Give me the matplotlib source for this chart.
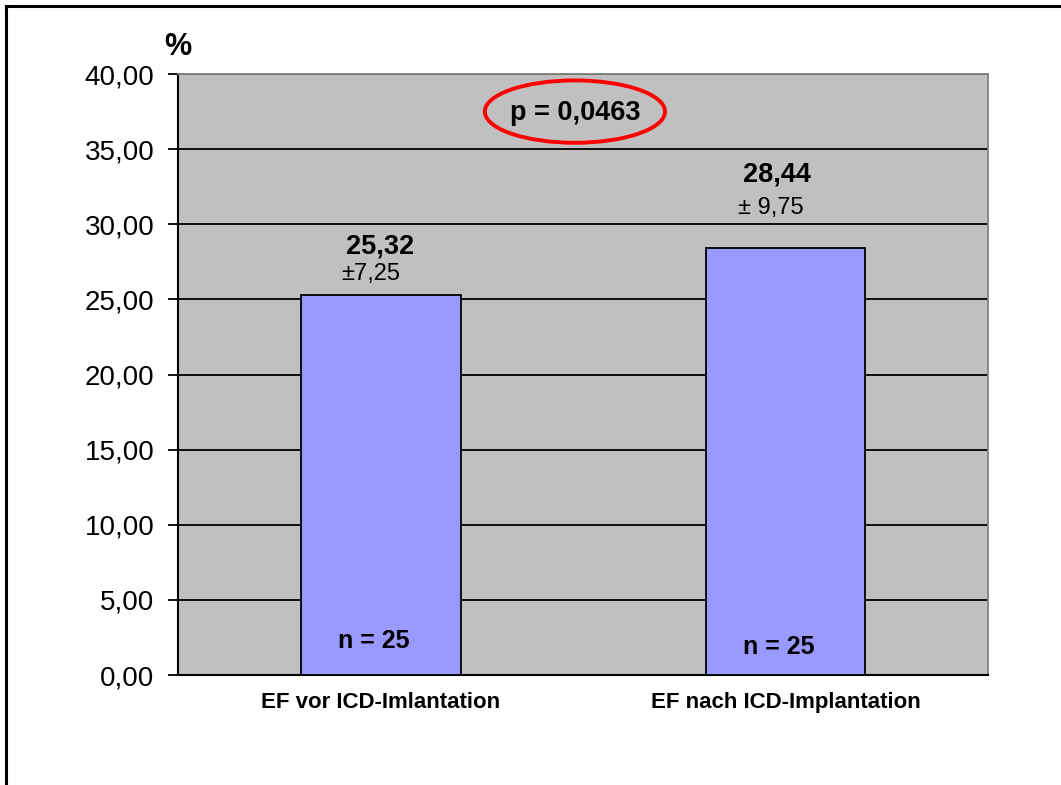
import matplotlib
matplotlib.use('Agg')
import matplotlib.pyplot as plt
from matplotlib.patches import Ellipse
from matplotlib.lines import Line2D

plt.rcParams['font.family'] = ['Liberation Sans', 'DejaVu Sans']

# data
categories = ['EF vor ICD-Imlantation', 'EF nach ICD-Implantation']
ef_mean = [25.32, 28.44]
ef_sd_labels = ['\u00b17,25', '\u00b1 9,75']
n_labels = ['n = 25', 'n = 25']
p_label = 'p = 0,0463'
yticks = [0, 5, 10, 15, 20, 25, 30, 35, 40]

fig = plt.figure(figsize=(10.61, 7.85), dpi=100)
ax = fig.add_axes([0.1678, 0.1401, 0.7634, 0.7656])
ax.set_facecolor('#C0C0C0')

x = list(range(len(categories)))
ax.bar(x, ef_mean, width=0.395, color='#9999FF', edgecolor='black', linewidth=1.3, zorder=3)

ax.set_xlim(-0.5, 1.5)
ax.set_ylim(0, 40)
ax.set_yticks(yticks)
ax.set_yticklabels([f'{v:.2f}'.replace('.', ',') for v in yticks], fontsize=20)
ax.yaxis.grid(True, color='black', linewidth=1.3, zorder=1)
ax.set_axisbelow(True)
ax.tick_params(axis='y', length=7, width=1.3, pad=10)
ax.set_xticks(x)
ax.set_xticklabels(categories, fontsize=16, fontweight='bold')
ax.tick_params(axis='x', length=0, pad=12)

ax.spines['left'].set_linewidth(1.5)
ax.spines['bottom'].set_linewidth(1.5)
ax.spines['top'].set_color('#808080')
ax.spines['right'].set_color('#808080')
ax.spines['top'].set_linewidth(1.3)
ax.spines['right'].set_linewidth(1.3)

# value labels above the bars (offsets in data units)
mean_offset = [3.2, 4.84]
sd_offset = [1.4, 2.64]
sd_shift = [-0.025, -0.037]
label_shift = [0.0, -0.02]
for i, v in enumerate(ef_mean):
    ax.text(x[i] + label_shift[i], v + mean_offset[i], f'{v:.2f}'.replace('.', ','),
            ha='center', va='center', fontsize=19.5, fontweight='bold', zorder=5)
    ax.text(x[i] + sd_shift[i], v + sd_offset[i], ef_sd_labels[i],
            ha='center', va='center', fontsize=17, zorder=5)

n_y = [2.26, 1.86]
for i, t in enumerate(n_labels):
    ax.text(x[i] - 0.017, n_y[i], t, ha='center', va='center',
            fontsize=18, fontweight='bold', zorder=5)

mid = (x[0] + x[1]) / 2
ax.text(mid - 0.02, 37.4, p_label, ha='center', va='center',
        fontsize=19.5, fontweight='bold', zorder=5)
ax.add_patch(Ellipse((mid - 0.02, 37.5), 0.445, 4.15, fill=False,
                     edgecolor='#FF0000', linewidth=2.8, zorder=6))

ax.text(0, 1.045, '%', transform=ax.transAxes, ha='center', va='center',
        fontsize=22, fontweight='bold')

# outer frame (left and top only are visible)
fig.add_artist(Line2D([0.0057, 0.0057], [0, 0.9924], color='black', linewidth=2.2))
fig.add_artist(Line2D([0.0057, 1.0], [0.9924, 0.9924], color='black', linewidth=2.2))

fig.savefig('out.png', dpi=100, facecolor='white')
